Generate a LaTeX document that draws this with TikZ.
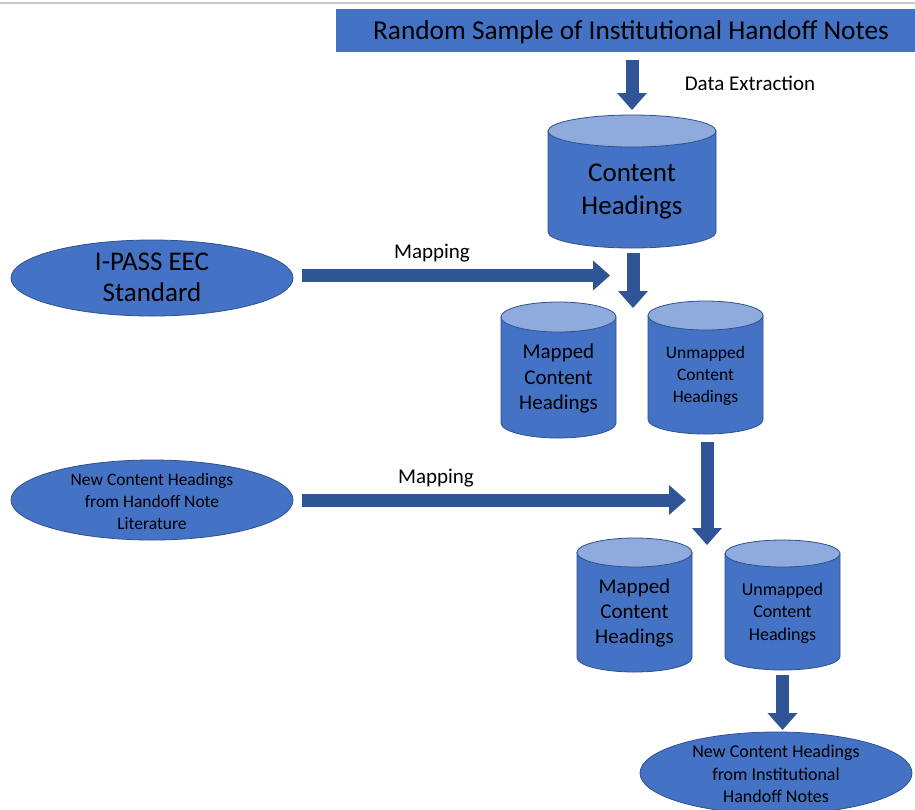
\documentclass[tikz,border=0pt]{standalone}
\usepackage{fontspec}
\setmainfont{Carlito}
\usetikzlibrary{arrows.meta,calc,shapes.geometric}
\definecolor{fillblue}{HTML}{4472C4}
\definecolor{edgeblue}{HTML}{2F528F}
\definecolor{topblue}{HTML}{8FAADC}
\definecolor{arrowblue}{HTML}{2F5597}
\definecolor{rulegray}{HTML}{C8C8C8}
\tikzset{
  cylbody/.style={fill=fillblue, draw=edgeblue, line width=0.8pt},
  cyltop/.style={fill=topblue, draw=edgeblue, line width=0.8pt},
  shapebox/.style={draw=none, inner sep=0pt, outer sep=0pt, rectangle},
  ellbox/.style={ellipse, fill=fillblue, draw=edgeblue, line width=0.8pt, inner sep=0pt, outer sep=0pt},
  txt/.style={align=center, inner sep=0pt, text=black},
  blk/.style={draw=arrowblue, line width=13pt,
    -{Triangle[width=30pt,length=17pt,line width=0pt,fill=arrowblue]}},
  lbl/.style={inner sep=0pt, text=black}
}
% L R T B ry
\newcommand\drawcyl[5]{%
  \pgfmathsetmacro\cylcx{(#1+#2)/2}%
  \pgfmathsetmacro\cylrx{(#2-#1)/2}%
  \filldraw[cylbody] (#1,#3+#5) -- (#1,#4-#5)
     arc[start angle=180,end angle=360,x radius=\cylrx pt,y radius=#5 pt]
     -- (#2,#3+#5) -- cycle;
  \filldraw[cyltop] (\cylcx,#3+#5) ellipse[x radius=\cylrx pt, y radius=#5 pt];
}
\begin{document}
\begin{tikzpicture}[x=1pt,y=-1pt]
\useasboundingbox (0,0) rectangle (915,809);
\clip (0,0) rectangle (915,809);
\fill[white] (0,0) rectangle (915,809);
\draw[rulegray, line width=1.5pt] (0,3) -- (915,3);

% title
\node[rectangle, fill=fillblue, minimum width=590pt, minimum height=43pt, inner sep=0pt,
      text depth=1.5pt, font=\fontsize{27.3}{33}\selectfont] (title) at (631,30.5)
      {Random Sample of Institutional Handoff Notes};
\node[lbl, font=\fontsize{21}{25}\selectfont] (dx) at (750,83) {Data Extraction};

% cylinder: Content Headings
\drawcyl{548}{716}{115}{248}{16}
\node[shapebox, minimum width=168pt, minimum height=133pt] (ch) at (632,181.5) {};
\node[txt, font=\fontsize{27}{33}\selectfont] (cht) at (632,192) {Content\\Headings};

% first split
\drawcyl{501}{616}{302}{438}{15}
\node[shapebox, minimum width=115pt, minimum height=136pt] (m1) at (558.5,370) {};
\node[txt, font=\fontsize{21}{25.5}\selectfont] (m1t) at (558.5,379) {Mapped\\Content\\Headings};

\drawcyl{648}{763}{301}{434}{14.5}
\node[shapebox, minimum width=115pt, minimum height=133pt] (u1) at (705.5,367.5) {};
\node[txt, font=\fontsize{17.5}{22}\selectfont] (u1t) at (705.5,376) {Unmapped\\Content\\Headings};

% second split
\drawcyl{577}{692}{538}{672}{14.5}
\node[shapebox, minimum width=115pt, minimum height=134pt] (m2) at (634.5,605) {};
\node[txt, font=\fontsize{21}{25}\selectfont] (m2t) at (634.5,613) {Mapped\\Content\\Headings};

\drawcyl{725}{840}{540}{670}{13.5}
\node[shapebox, minimum width=115pt, minimum height=130pt] (u2) at (782.5,605) {};
\node[txt, font=\fontsize{18}{22.5}\selectfont] (u2t) at (782.5,613) {Unmapped\\Content\\Headings};

% ellipses
\node[ellbox, minimum width=282pt, minimum height=76pt] (ipass) at (152,278) {};
\node[txt, font=\fontsize{27}{31}\selectfont] (ipasst) at (152,277) {I-PASS EEC\\Standard};

\node[ellbox, minimum width=282pt, minimum height=80pt] (lit) at (152,500) {};
\node[txt, font=\fontsize{17.5}{22}\selectfont] (litt) at (152,501) {New Content Headings\\from Handoff Note\\Literature};

\node[ellbox, minimum width=272pt, minimum height=82pt] (inst) at (776,773) {};
\node[txt, font=\fontsize{18}{22.5}\selectfont] (instt) at (776,774) {New Content Headings\\from Institutional\\Handoff Notes};

% connector end points
\coordinate (s1) at (633,308);
\coordinate (s2) at (707,545);
\coordinate (mp1) at (610,275.5);
\coordinate (mp2) at (686,500);

% connectors
\draw[blk, shorten <=8pt, shorten >=5pt] (title.south -| ch.north) -- (ch.north);
\draw[blk, shorten <=5pt] (ch.south -| s1) -- (s1);
\draw[blk, shorten <=9pt] (ipass.east |- mp1) -- (mp1);
\draw[blk, shorten <=8pt] (u1.south -| s2) -- (s2);
\draw[blk, shorten <=9pt] (lit.east |- mp2) -- (mp2);
\draw[blk, shorten <=5pt, shorten >=2pt] (u2.south) -- (inst.north -| u2.south);

% labels
\node[lbl, font=\fontsize{21}{25}\selectfont] (map1) at (432,253) {Mapping};
\node[lbl, font=\fontsize{21}{25}\selectfont] (map2) at (436,478) {Mapping};
\end{tikzpicture}
\end{document}
